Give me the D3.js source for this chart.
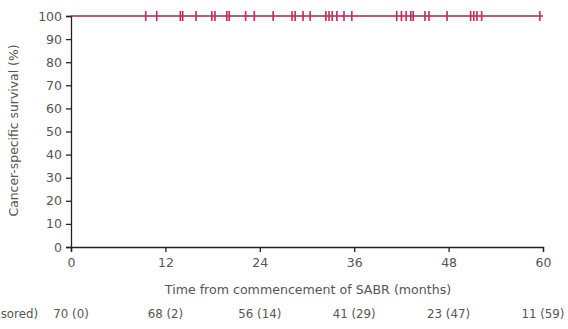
<!DOCTYPE html>
<html>
<head>
<meta charset="utf-8">
<script src="https://cdn.jsdelivr.net/npm/d3@7"></script>
<style>
  body { margin: 0; background: #fff; }
  text { font-family: "DejaVu Sans", sans-serif; }
</style>
</head>
<body>
<div class="chart"></div>
<script>
// Survival curve: stays at 100% for whole follow-up
const curveTimes = [0, 60];
const curveSurvival = [100, 100];

const censorTimes = [9.5, 10.9, 13.9, 14.2, 15.9, 17.9, 18.3, 19.8, 20.1, 22.2, 23.3,
    25.7, 28.1, 28.5, 29.5, 30.4, 32.4, 32.8, 33.2, 33.8, 34.7, 35.7,
    41.4, 42.0, 42.6, 43.2, 43.5, 45.0, 45.5, 47.8, 50.8, 51.2, 51.6, 52.2, 59.6];

// x ticks and number at risk table
const xTicks = [0, 12, 24, 36, 48, 60];
const atRisk = [70, 68, 56, 41, 23, 11];
const censored = [0, 2, 14, 29, 47, 59];
const yTicks = [0, 10, 20, 30, 40, 50, 60, 70, 80, 90, 100];

function drawChart() {
    const width = 568;
    const height = 329;
    const margin = { top: 16, right: 25, bottom: 82, left: 71 };
    const chartWidth = width - margin.left - margin.right;
    const chartHeight = height - margin.top - margin.bottom;

    const svg = d3.select(".chart").append("svg")
        .attr("width", width)
        .attr("height", height);

    const g = svg.append("g")
        .attr("transform", `translate(${margin.left}, ${margin.top})`);

    const xScale = d3.scaleLinear().domain([0, 60]).range([0, chartWidth]);
    const yScale = d3.scaleLinear().domain([0, 100]).range([chartHeight, 0]);

    // axes
    const xAxis = d3.axisBottom(xScale).tickValues(xTicks).tickSize(5).tickPadding(6);
    const yAxis = d3.axisLeft(yScale).tickValues(yTicks).tickSize(5).tickPadding(4);

    const gx = g.append("g")
        .attr("transform", `translate(0, ${chartHeight})`)
        .call(xAxis);
    const gy = g.append("g").call(yAxis);

    [gx, gy].forEach(a => {
        a.select(".domain").attr("stroke", "#222").attr("stroke-width", 1.3);
        a.selectAll(".tick line").attr("stroke", "#222").attr("stroke-width", 1.3);
        a.selectAll(".tick text")
            .attr("fill", "#555")
            .style("font-size", "12.5px")
            .style("font-family", "DejaVu Sans, sans-serif");
    });

    // axis titles
    g.append("text")
        .attr("x", chartWidth / 2 + 1)
        .attr("y", chartHeight + 47)
        .attr("text-anchor", "middle")
        .attr("fill", "#555")
        .style("font-size", "12.6px")
        .text("Time from commencement of SABR (months)");

    g.append("text")
        .attr("transform", `translate(${-53}, ${chartHeight / 2 - 1}) rotate(-90)`)
        .attr("text-anchor", "middle")
        .attr("fill", "#555")
        .style("font-size", "12.4px")
        .text("Cancer-specific survival (%)");

    // survival curve
    const line = d3.line()
        .x(d => xScale(d[0]))
        .y(d => yScale(d[1]))
        .curve(d3.curveStepAfter);

    g.append("path")
        .datum(curveTimes.map((t, i) => [t, curveSurvival[i]]))
        .attr("d", line)
        .attr("fill", "none")
        .attr("stroke", "#a3234c")
        .attr("stroke-width", 1.6);

    // censor marks
    g.selectAll(".censor")
        .data(censorTimes)
        .enter()
        .append("line")
        .attr("class", "censor")
        .attr("x1", d => xScale(d))
        .attr("x2", d => xScale(d))
        .attr("y1", yScale(100) - 5)
        .attr("y2", yScale(100) + 5)
        .attr("stroke", "#c8265a")
        .attr("stroke-width", 1.6);

    // number at risk row
    g.append("text")
        .attr("x", -33)
        .attr("y", chartHeight + 71)
        .attr("text-anchor", "end")
        .attr("fill", "#555")
        .style("font-size", "11.8px")
        .text("Number at risk (number censored)");

    g.selectAll(".risk")
        .data(xTicks)
        .enter()
        .append("text")
        .attr("class", "risk")
        .attr("x", d => xScale(d))
        .attr("y", chartHeight + 71)
        .attr("text-anchor", "middle")
        .attr("fill", "#555")
        .style("font-size", "11.8px")
        .text((d, i) => `${atRisk[i]} (${censored[i]})`);
}

drawChart();
</script>
</body>
</html>
